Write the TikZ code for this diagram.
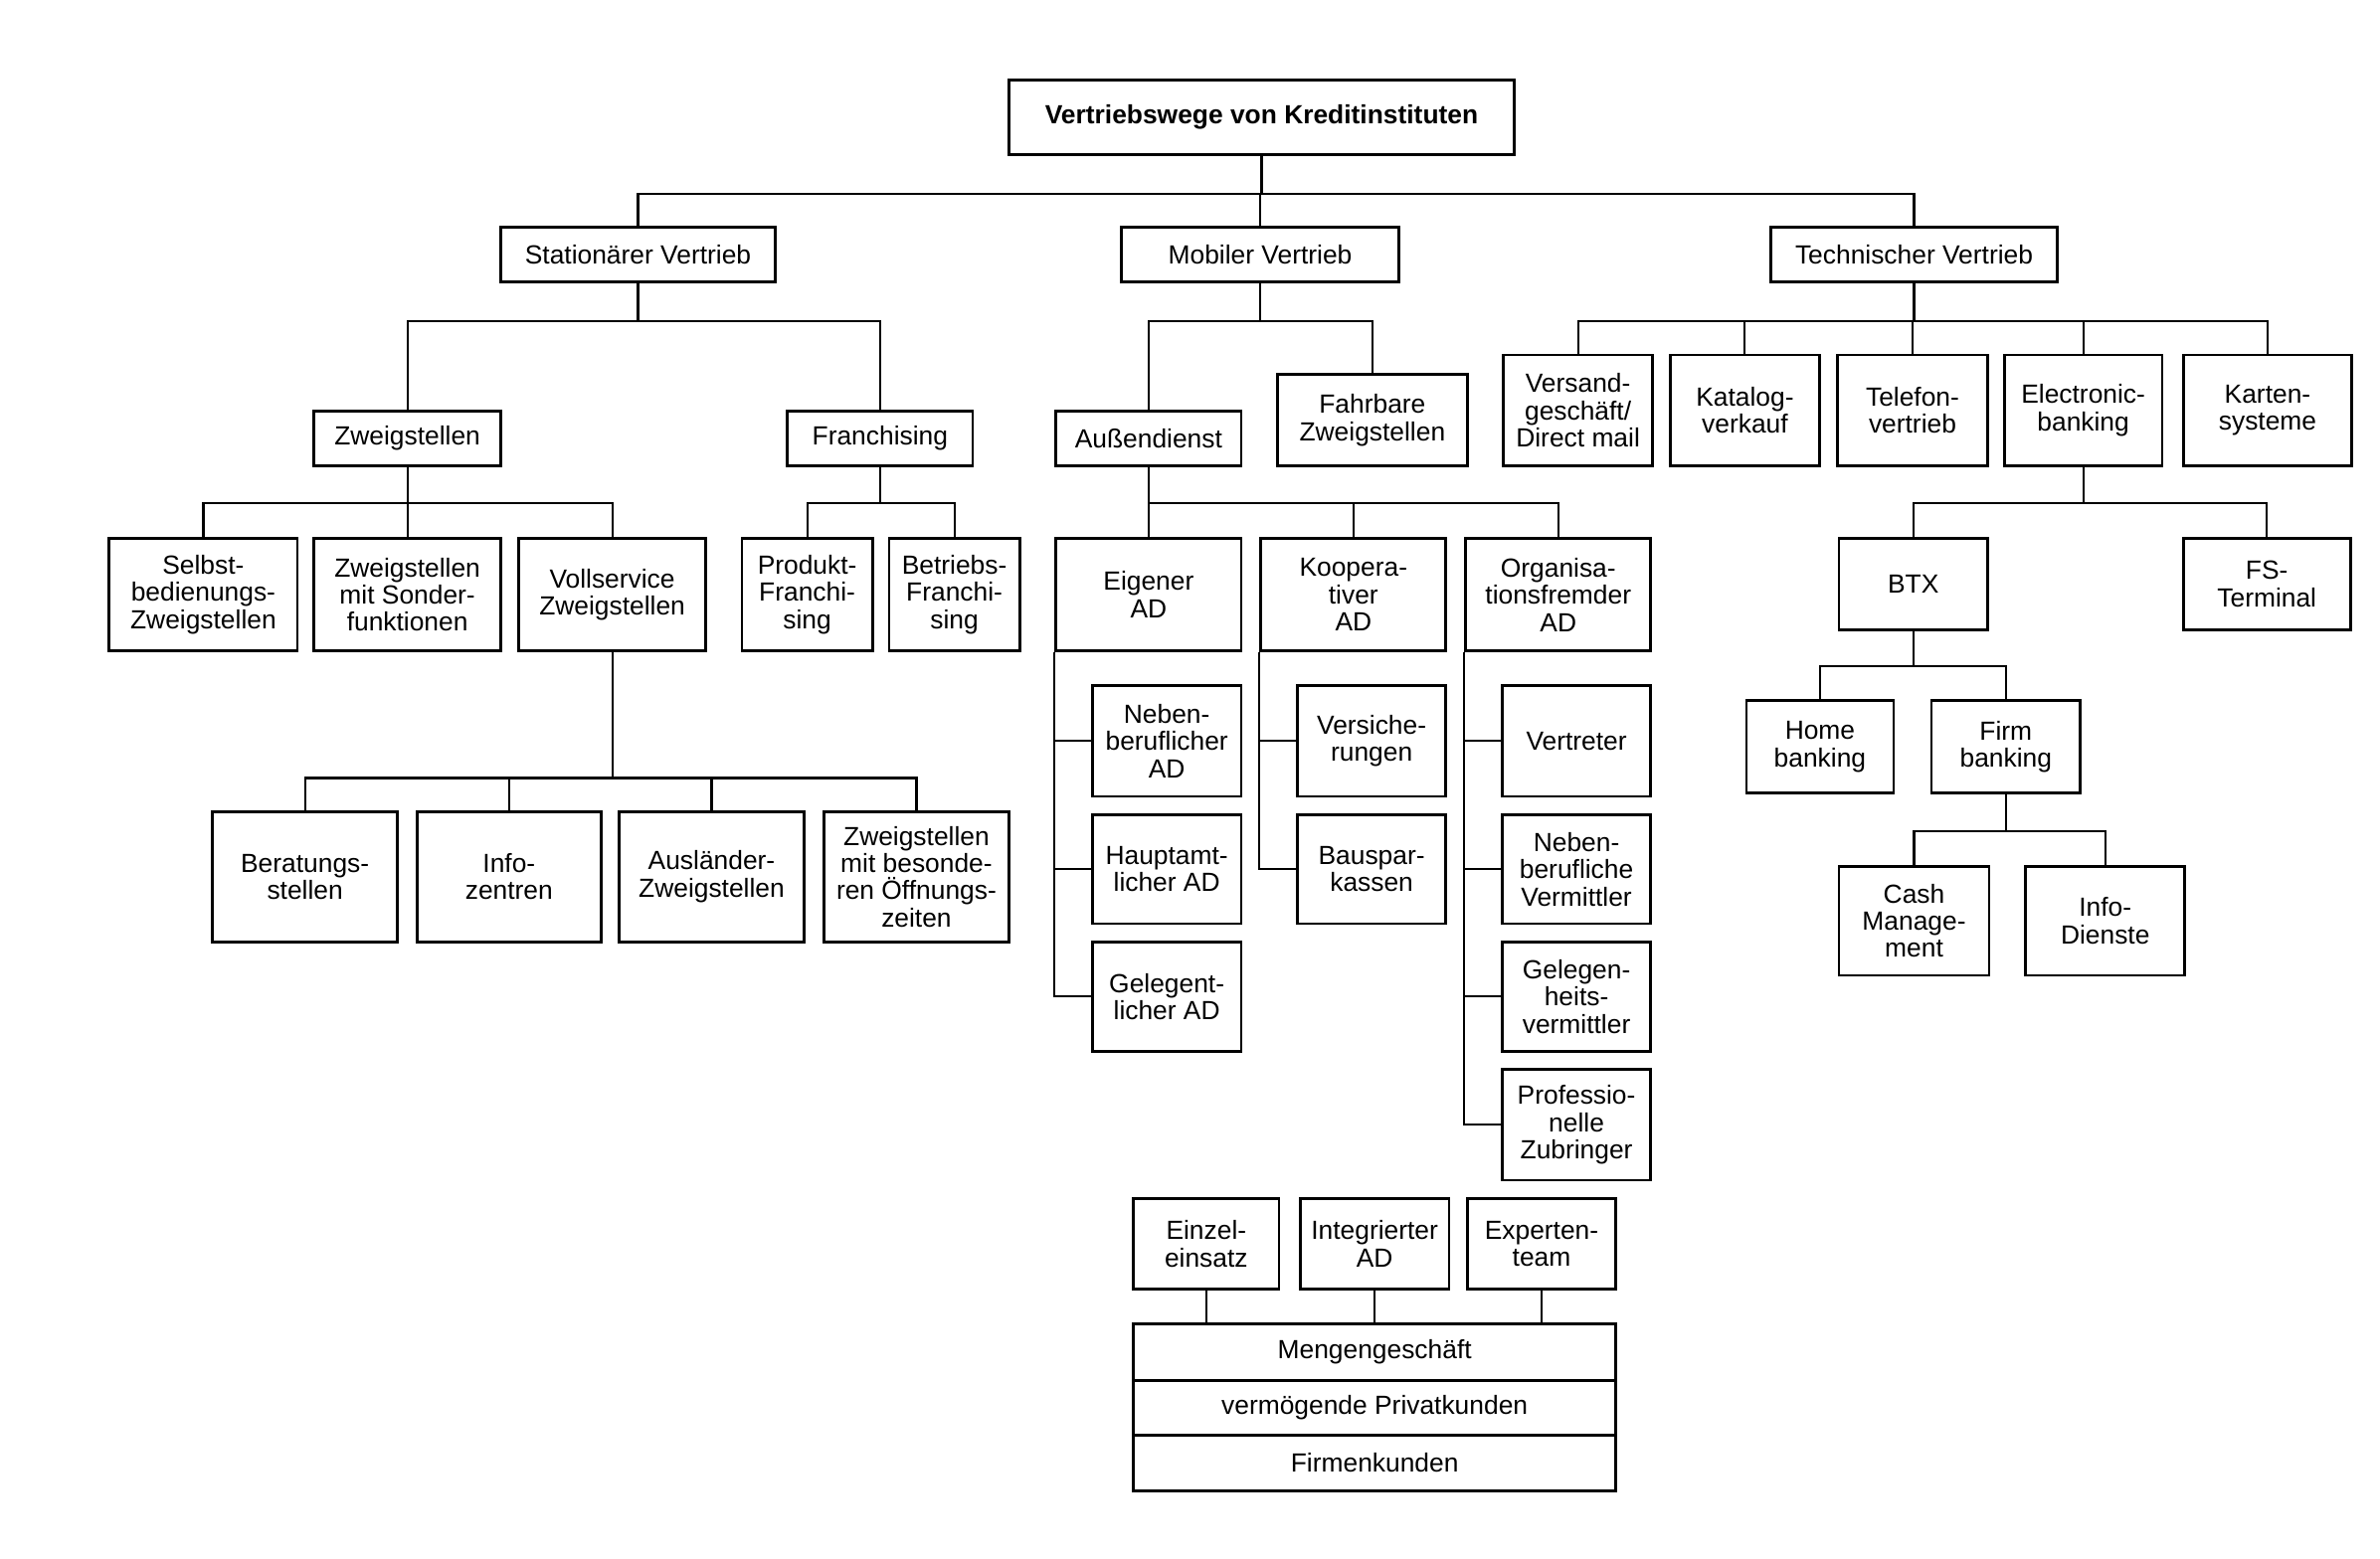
\documentclass[tikz,border=0pt]{standalone}
\usepackage{fontspec}
\setmainfont{Liberation Sans}
\usetikzlibrary{positioning}
\tikzset{
	box/.style={draw, line width=1.3pt, inner sep=0pt, align=center, font=\fontsize{12.3}{12.8}\selectfont},
	sz/.style 2 args={minimum width=#1*0.25mm, minimum height=#2*0.25mm},
	link/.style={line width=1pt}
}
\begin{document}
\begin{tikzpicture}[x=0.25mm, y=-0.25mm]
		\useasboundingbox (0,0) rectangle (1568.6,1027.2);
		% top level
		\node [box, sz={333}{49}, font=\bfseries\fontsize{12.3}{12.8}\selectfont] (title) at (831.5,77.5) {Vertriebswege von Kreditinstituten};
		\node [box, sz={181}{36}] (stat) at (420.5,168) {Stationärer Vertrieb};
		\node [box, sz={183}{36}] (mob) at (830.5,168) {Mobiler Vertrieb};
		\node [box, sz={189}{36}] (tech) at (1261.5,168) {Technischer Vertrieb};
		% stationaerer Vertrieb
		\node [box, sz={123}{36}] (zweig) at (268.5,289) {Zweigstellen};
		\node [box, sz={122}{36}] (fran) at (580,289) {Franchising};
		\node [box, sz={124}{74}] (selbst) at (134,392) {Selbst-\\bedienungs-\\Zweigstellen};
		\node [box, sz={123}{74}] (sonder) at (268.5,392) {Zweigstellen\\mit Sonder-\\funktionen};
		\node [box, sz={123}{74}] (voll) at (403.5,392) {Vollservice\\Zweigstellen};
		\node [box, sz={86}{74}] (prod) at (532,392) {Produkt-\\Franchi-\\sing};
		\node [box, sz={86}{74}] (betr) at (629,392) {Betriebs-\\Franchi-\\sing};
		\node [box, sz={122}{86}] (berat) at (201,578) {Beratungs-\\stellen};
		\node [box, sz={121}{86}] (info) at (335.5,578) {Info-\\zentren};
		\node [box, sz={122}{86}] (ausl) at (469,578) {Ausländer-\\Zweigstellen};
		\node [box, sz={122}{86}] (oeff) at (604,578) {Zweigstellen\\mit besonde-\\ren Öffnungs-\\zeiten};
		% mobiler Vertrieb
		\node [box, sz={122}{36}] (aussen) at (757,289) {Außendienst};
		\node [box, sz={125}{60}] (fahr) at (904.5,277) {Fahrbare\\Zweigstellen};
		\node [box, sz={122}{74}] (eig) at (757,392) {Eigener\\AD};
		\node [box, sz={122}{74}] (koop) at (892,392) {Koopera-\\tiver\\AD};
		\node [box, sz={122}{74}] (org) at (1027,392) {Organisa-\\tionsfremder\\AD};
		\node [box, sz={98}{73}] (nebAD) at (769,488.5) {Neben-\\beruflicher\\AD};
		\node [box, sz={98}{72}] (haupt) at (769,573) {Hauptamt-\\licher AD};
		\node [box, sz={98}{72}] (geleg) at (769,657) {Gelegent-\\licher AD};
		\node [box, sz={98}{73}] (vers) at (904,488.5) {Versiche-\\rungen};
		\node [box, sz={98}{72}] (bausp) at (904,573) {Bauspar-\\kassen};
		\node [box, sz={98}{73}] (vertr) at (1039,488.5) {Vertreter};
		\node [box, sz={98}{72}] (nebV) at (1039,573) {Neben-\\berufliche\\Vermittler};
		\node [box, sz={98}{72}] (gelV) at (1039,657) {Gelegen-\\heits-\\vermittler};
		\node [box, sz={98}{73}] (prof) at (1039,741.5) {Professio-\\nelle\\Zubringer};
		\node [box, sz={96}{60}] (einzel) at (795,820) {Einzel-\\einsatz};
		\node [box, sz={98}{60}] (integ) at (906,820) {Integrierter\\AD};
		\node [box, sz={98}{60}] (exp) at (1016,820) {Experten-\\team};
		\node [box, sz={318}{37}] (menge) at (906,891.5) {Mengengeschäft};
		\node [box, sz={318}{36}] (verm) at (906,928) {vermögende Privatkunden};
		\node [box, sz={318}{37}] (firm) at (906,964.5) {Firmenkunden};
		% technischer Vertrieb
		\node [box, sz={98}{73}] (versand) at (1040,270.5) {Versand-\\geschäft/\\Direct mail};
		\node [box, sz={98}{73}] (katalog) at (1150,270.5) {Katalog-\\verkauf};
		\node [box, sz={99}{73}] (telefon) at (1260.5,270.5) {Telefon-\\vertrieb};
		\node [box, sz={104}{73}] (elec) at (1373,270.5) {Electronic-\\banking};
		\node [box, sz={111}{73}] (karten) at (1494.5,270.5) {Karten-\\systeme};
		\node [box, sz={98}{60}] (btx) at (1261,385) {BTX};
		\node [box, sz={110}{60}] (fs) at (1494,385) {FS-\\Terminal};
		\node [box, sz={97}{61}] (home) at (1199.5,492.5) {Home\\banking};
		\node [box, sz={98}{61}] (firmb) at (1322,492.5) {Firm\\banking};
		\node [box, sz={99}{72}] (cash) at (1261.5,607) {Cash\\Manage-\\ment};
		\node [box, sz={105}{72}] (infod) at (1387.5,607) {Info-\\Dienste};
		% tree links
		\foreach \kid in {stat,mob,tech}
			\draw [link] (title.south) -- ++(0,25) -| (\kid.north);
		\foreach \kid in {zweig,fran}
			\draw [link] (stat.south) -- ++(0,25) -| (\kid.north);
		\foreach \kid in {selbst,sonder,voll}
			\draw [link] (zweig.south) -- ++(0,24) -| (\kid.north);
		\foreach \kid in {prod,betr}
			\draw [link] (fran.south) -- ++(0,24) -| (\kid.north);
		\foreach \kid in {berat,info,ausl,oeff}
			\draw [link] (voll.south) -- ++(0,83) -| (\kid.north);
		\foreach \kid in {aussen,fahr}
			\draw [link] (mob.south) -- ++(0,25) -| (\kid.north);
		\foreach \kid in {eig,koop,org}
			\draw [link] (aussen.south) -- ++(0,24) -| (\kid.north);
		\foreach \kid in {nebAD,haupt,geleg}
			\draw [link] (eig.south west) |- (\kid.west);
		\foreach \kid in {vers,bausp}
			\draw [link] (koop.south west) |- (\kid.west);
		\foreach \kid in {vertr,nebV,gelV,prof}
			\draw [link] (org.south west) |- (\kid.west);
		\foreach \kid in {einzel,integ,exp}
			\draw [link] (\kid.south) -- (\kid.south |- menge.north);
		\foreach \kid in {versand,katalog,telefon,elec,karten}
			\draw [link] (tech.south) -- ++(0,25) -| (\kid.north);
		\foreach \kid in {btx,fs}
			\draw [link] (elec.south) -- ++(0,24) -| (\kid.north);
		\foreach \kid in {home,firmb}
			\draw [link] (btx.south) -- ++(0,23) -| (\kid.north);
		\foreach \kid in {cash,infod}
			\draw [link] (firmb.south) -- ++(0,24) -| (\kid.north);
	\end{tikzpicture}
\end{document}
